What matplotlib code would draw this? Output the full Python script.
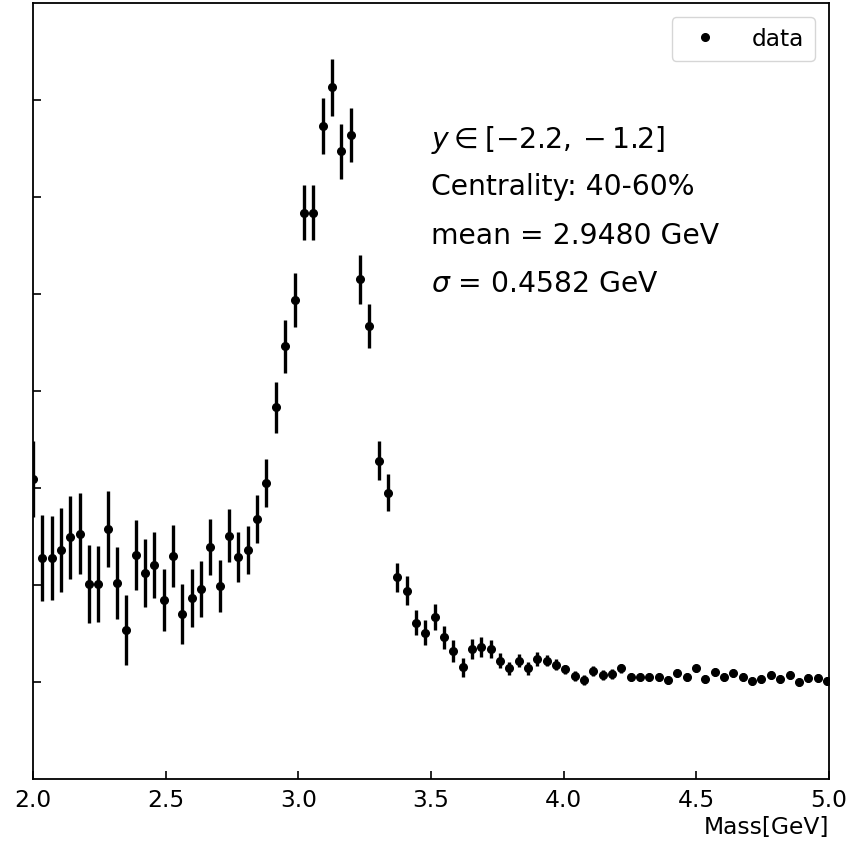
import numpy as np
import matplotlib
matplotlib.use("Agg")
import matplotlib.pyplot as plt
from matplotlib.lines import Line2D

# bin centres (GeV)
mass = np.round(2.0 + 0.0352 * np.arange(86), 4)

counts = [
    3.09, 2.28, 2.28, 2.36, 2.49, 2.53, 2.01, 2.01, 2.58, 2.02,
    1.54, 2.31, 2.12, 2.21, 1.85, 2.30, 1.70, 1.87, 1.96, 2.39,
    1.99, 2.51, 2.29, 2.36, 2.68, 3.05, 3.83, 4.46, 4.94, 5.84,
    5.84, 6.73, 7.13, 6.47, 6.64, 5.15, 4.67, 3.28, 2.95, 2.08,
    1.94, 1.61, 1.51, 1.67, 1.46, 1.32, 1.15, 1.34, 1.36, 1.34,
    1.22, 1.14, 1.22, 1.14, 1.24, 1.22, 1.18, 1.13, 1.06, 1.02,
    1.11, 1.07, 1.08, 1.14, 1.05, 1.05, 1.05, 1.05, 1.02, 1.09,
    1.05, 1.14, 1.03, 1.10, 1.05, 1.09, 1.05, 1.01, 1.03, 1.07,
    1.03, 1.07, 1.00, 1.04, 1.04, 1.01,
]

errors = [
    0.39, 0.44, 0.43, 0.43, 0.43, 0.42, 0.40, 0.39, 0.39, 0.37,
    0.36, 0.36, 0.35, 0.34, 0.32, 0.32, 0.31, 0.30, 0.29, 0.29,
    0.27, 0.27, 0.26, 0.25, 0.25, 0.25, 0.26, 0.27, 0.28, 0.28,
    0.28, 0.29, 0.29, 0.28, 0.28, 0.25, 0.23, 0.20, 0.19, 0.15,
    0.15, 0.13, 0.13, 0.13, 0.12, 0.11, 0.10, 0.10, 0.10, 0.09,
    0.08, 0.07, 0.07, 0.07, 0.07, 0.06, 0.06, 0.05, 0.05, 0.05,
    0.05, 0.05, 0.05, 0.05, 0.04, 0.04, 0.04, 0.04, 0.04, 0.04,
    0.04, 0.04, 0.04, 0.04, 0.04, 0.04, 0.04, 0.04, 0.04, 0.04,
    0.04, 0.04, 0.04, 0.04, 0.04, 0.04,
]

x_ticks = [2.0, 2.5, 3.0, 3.5, 4.0, 4.5, 5.0]
x_tick_labels = ["2.0", "2.5", "3.0", "3.5", "4.0", "4.5", "5.0"]
y_ticks = [1, 2, 3, 4, 5, 6, 7]

info_lines = [
    r"$y \in [-2.2, -1.2]$",
    "Centrality: 40-60%",
    "mean = 2.9480 GeV",
    r"$\sigma$ = 0.4582 GeV",
]

fig = plt.figure(figsize=(8.47, 8.46), dpi=100)
ax = fig.add_axes([33 / 847, 1 - 779 / 846, (829 - 33) / 847, (779 - 3) / 846])

ax.errorbar(mass, counts, yerr=errors, fmt="o", color="black",
            markersize=5.5, elinewidth=2.4, capsize=0)

ax.set_xlim(2.0, 5.0)
ax.set_ylim(0, 8)
ax.set_xticks(x_ticks)
ax.set_xticklabels(x_tick_labels)
ax.set_yticks(y_ticks)
ax.set_yticklabels([])
ax.tick_params(direction="in", length=6, width=1.2, labelsize=16.8, pad=7)
for s in ax.spines.values():
    s.set_linewidth(1.3)

ax.set_xlabel("Mass[GeV]", fontsize=16.8, loc="right", labelpad=3)

text_y = [6.59, 6.10, 5.60, 5.10]
for t, yy in zip(info_lines, text_y):
    ax.text(3.5, yy, t, fontsize=20.3, va="center", ha="left")

handle = Line2D([], [], marker="o", linestyle="none", color="black", markersize=5.5)
ax.legend([handle], ["data"], loc="upper right", fontsize=16.8,
          handletextpad=1.0, borderpad=0.45, borderaxespad=0.6)

fig.savefig("out.png", dpi=100)
